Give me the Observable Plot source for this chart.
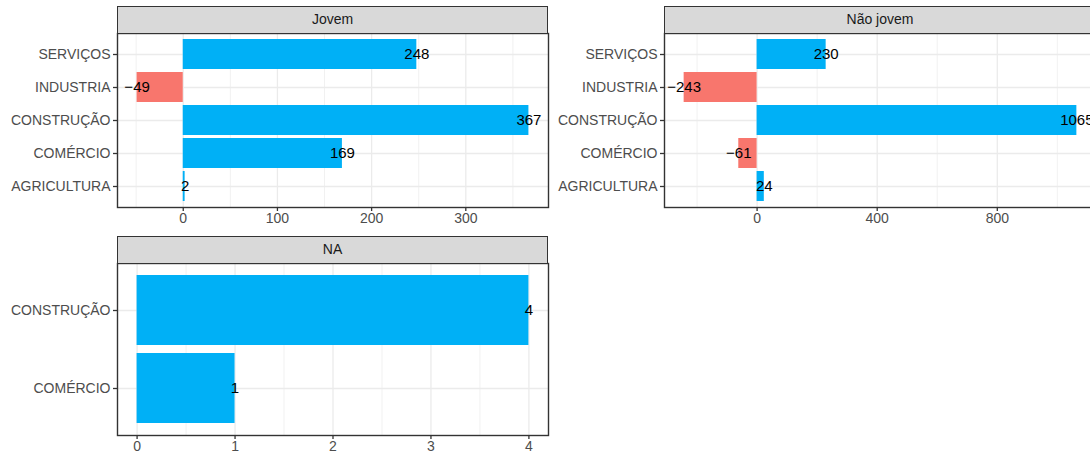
<!DOCTYPE html>
<html>
<head>
<meta charset="utf-8">
<script src="https://cdn.jsdelivr.net/npm/d3@7"></script>
<script src="https://cdn.jsdelivr.net/npm/@observablehq/plot@0.6"></script>
<style>
  html, body { margin: 0; padding: 0; background: #fff; }
  body { width: 1090px; height: 455px; overflow: hidden; position: relative; font-family: "Liberation Sans", Arial, sans-serif; }
  .strip { position: absolute; box-sizing: border-box; background: #D9D9D9; border: 1.4px solid #333333;
           color: #1A1A1A; font-size: 14px; text-align: center; }
  .panel { position: absolute; }
  .panel svg { max-width: none !important; }
</style>
</head>
<body>
<script>
// ---- data ----
const facetNames = ["Jovem", "Não jovem", "NA"];
const jovemSectors = ["SERVIÇOS", "INDUSTRIA", "CONSTRUÇÃO", "COMÉRCIO", "AGRICULTURA"];
const jovemValues = [248, -49, 367, 169, 2];
const naoJovemSectors = ["SERVIÇOS", "INDUSTRIA", "CONSTRUÇÃO", "COMÉRCIO", "AGRICULTURA"];
const naoJovemValues = [230, -243, 1065, -61, 24];
const naSectors = ["CONSTRUÇÃO", "COMÉRCIO"];
const naValues = [4, 1];
const jovemTicks = [0, 100, 200, 300];
const jovemMinor = [-50, 50, 150, 250, 350];
const naoJovemTicks = [0, 400, 800];
const naoJovemMinor = [-200, 200, 600, 1000];
const naTicks = [0, 1, 2, 3, 4];
const naMinor = [0.5, 1.5, 2.5, 3.5];

const POS = "#00B0F6", NEG = "#F8766D";
const fmt = v => (v < 0 ? "\u2212" + Math.abs(v) : String(v));

function panel({name, sectors, values, ticks, minor, left, top, width, height, stripTop}) {
  const data = sectors.map((s, i) => ({sector: s, value: values[i]}));
  const lo = Math.min(0, d3.min(values)), hi = Math.max(0, d3.max(values));
  const pad = (hi - lo) * 0.05;
  const ML = 140, MT = 1, MB = 30, MR = 1;

  const strip = document.createElement("div");
  strip.className = "strip";
  strip.style.left = left + "px";
  strip.style.top = stripTop + "px";
  strip.style.width = width + "px";
  strip.style.height = (top - stripTop + 1) + "px";
  strip.style.lineHeight = (top - stripTop - 2) + "px";
  strip.textContent = name;

  const W = ML + width + MR;
  const chart = Plot.plot({
    width: W,
    height: MT + height + MB,
    marginLeft: ML, marginTop: MT, marginBottom: MB, marginRight: MR,
    style: {fontFamily: "'Liberation Sans', Arial, sans-serif", background: "transparent", overflow: "visible", maxWidth: "none"},
    x: {domain: [lo - pad, hi + pad]},
    y: {domain: sectors, type: "band", paddingInner: 0.1, paddingOuter: 0.15, align: 0.5},
    marks: [
      Plot.ruleX(minor, {stroke: "#EBEBEB", strokeWidth: 0.7}),
      Plot.ruleX(ticks, {stroke: "#EBEBEB", strokeWidth: 1.3}),
      Plot.gridY({stroke: "#EBEBEB", strokeOpacity: 1, strokeWidth: 1.3}),
      Plot.barX(data, {x: "value", y: "sector", fill: d => d.value < 0 ? NEG : POS}),
      Plot.text(data, {x: "value", y: "sector", text: d => fmt(d.value), fill: "black", fontSize: 15}),
      Plot.axisX(ticks, {tickSize: 4, tickPadding: 1.5, fontSize: 14, stroke: "#333333", strokeWidth: 1.3, fill: "#4D4D4D", label: null, tickFormat: d => String(d)}),
      Plot.axisY({tickSize: 4, tickPadding: 3, fontSize: 14, stroke: "#333333", strokeWidth: 1.3, fill: "#4D4D4D", label: null}),
      Plot.frame({stroke: "#333333", strokeWidth: 1.4})
    ]
  });
  const wrap = document.createElement("div");
  wrap.className = "panel";
  wrap.style.left = (left - ML) + "px";
  wrap.style.top = (top - MT) + "px";
  wrap.style.width = W + "px";
  wrap.appendChild(chart);
  document.body.appendChild(wrap);
  document.body.appendChild(strip);
}

panel({name: facetNames[0], sectors: jovemSectors, values: jovemValues, ticks: jovemTicks, minor: jovemMinor,
       left: 117, top: 33, width: 431, height: 174, stripTop: 6});
panel({name: facetNames[1], sectors: naoJovemSectors, values: naoJovemValues, ticks: naoJovemTicks, minor: naoJovemMinor,
       left: 664, top: 33, width: 432, height: 174, stripTop: 6});
panel({name: facetNames[2], sectors: naSectors, values: naValues, ticks: naTicks, minor: naMinor,
       left: 117, top: 263, width: 431, height: 172, stripTop: 236});
</script>
</body>
</html>
